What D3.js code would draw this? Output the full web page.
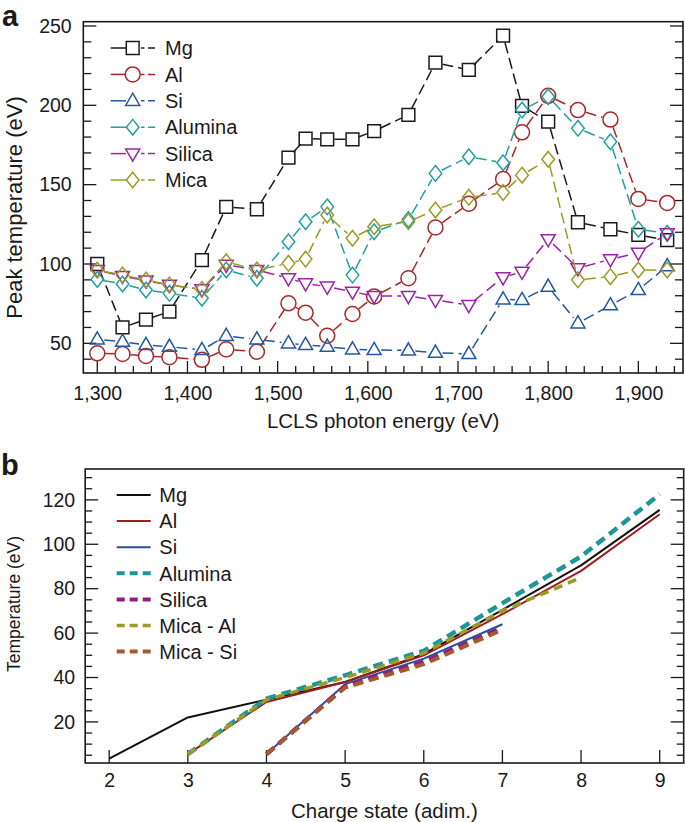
<!DOCTYPE html>
<html><head><meta charset="utf-8">
<script src="https://cdn.jsdelivr.net/npm/d3@7/dist/d3.min.js"></script>
<style>html,body{margin:0;padding:0;background:#fff}svg{display:block}text{font-family:"Liberation Sans",Arial,Helvetica,sans-serif;fill:#1a1a1a}</style>
</head><body>
<script>
// ---------- Panel a data ----------
const energies = [1300,1328,1354,1380,1416,1443,1477,1512,1531,1555,1583,1607,1645,1675,1712,1750,1771,1800,1833,1869,1900,1932];
const mgA      = [100,60,65,70,102.5,136,134.5,167,179,178.6,178.6,183.8,194,226.9,222.3,243.9,199.6,189.7,126.3,121.9,118.3,115];
const alA      = [43.7,43.3,42,41.3,39.6,46.2,44.7,75.2,69.3,54.8,68.5,79.5,91,123,138,153.5,183,206,197,191,141,138.5];
const siA      = [52.5,51,49,47.9,45.8,54.7,52.5,50,49,47.9,46.2,45.8,45.5,44.1,43.3,77.7,77.3,85.7,62.6,74,83.6,98.7];
const aluminaA = [90.3,87.4,83.6,81.5,78.4,96.2,91,114,126.6,136,93,120.3,128,157.1,167.6,163.8,197,205.4,185.5,177,121.9,119.3];
const silicaA  = [96.2,92.4,89.5,86.8,84,99.4,96.2,91,87.8,85.7,82.5,79.8,79.8,77.3,74.1,91.6,95.1,115.6,97.3,103,107.1,119.3];
const micaA    = [96.2,93,89.9,86.8,84,101.4,96.2,100.4,103.1,130.9,116.2,123.5,126.7,134,142,145,156,166,90,92,96.2,96.2];
const seriesNamesA = ["Mg","Al","Si","Alumina","Silica","Mica"];
const xTicksA = [1300,1400,1500,1600,1700,1800,1900];
const yTicksA = [50,100,150,200,250];

// ---------- Panel b data ----------
const mgBx = [2,3,4,5,6,7,8,9],   mgB = [3.5,22,30,38,50.5,70.5,90.5,115.5];
const alBx = [3,4,5,6,7,8,9],     alB = [5.5,29,38,50,68.5,88,113.5];
const siBx = [4,5,6,7],           siB = [5.5,37,48.5,64];
const aluminaBx = [3,4,5,6,7,8,9], aluminaB = [5.5,30.5,41,52,73.5,94.5,122.5];
const silicaBx = [4,5,6,7],       silicaB = [5.5,36,47,62.5];
const micaAlBx = [3,4,5,6,7,8],   micaAlB = [5.5,30,40,51,70,85];
const micaSiBx = [4,5,6,7],       micaSiB = [5.5,35.5,46,61.5];
const seriesNamesB = ["Mg","Al","Si","Alumina","Silica","Mica - Al","Mica - Si"];
const xTicksB = [2,3,4,5,6,7,8,9];
const yTicksB = [20,40,60,80,100,120];

const W = 685, H = 822;
const svg = d3.select("body").append("svg").attr("width", W).attr("height", H);
const FONT = 19.5;

// ================= Panel a =================
const ax = {l:83.3, r:683, t:21.7, b:373};
const xa = d3.scaleLinear().domain([1284.5, 1949.5]).range([ax.l, ax.r]);
const ya = d3.scaleLinear().domain([31.3, 252.7]).range([ax.b, ax.t]);
const ga = svg.append("g");

const minorXA = d3.range(1300, 1950, 20);
const minorYA = d3.range(40, 251, 10);
const tickG = ga.append("g").attr("stroke","#1a1a1a").attr("stroke-width",1.3);
minorXA.forEach(v => { const L = (v % 100 === 0) ? 12 : 7;
  tickG.append("line").attr("x1",xa(v)).attr("x2",xa(v)).attr("y1",ax.b).attr("y2",ax.b-L); });
minorYA.forEach(v => { const L = (v % 50 === 0) ? 13 : 8;
  tickG.append("line").attr("x1",ax.l).attr("x2",ax.l+L).attr("y1",ya(v)).attr("y2",ya(v));
  tickG.append("line").attr("x1",ax.r).attr("x2",ax.r-L).attr("y1",ya(v)).attr("y2",ya(v)); });

const axB = ga.append("g").attr("transform",`translate(0,${ax.b})`)
  .call(d3.axisBottom(xa).tickValues(xTicksA).tickSize(0).tickPadding(13.2).tickFormat(d3.format(",")));
const axL = ga.append("g").attr("transform",`translate(${ax.l},0)`)
  .call(d3.axisLeft(ya).tickValues(yTicksA).tickSize(0).tickPadding(11.6));
[axB, axL].forEach(a => { a.select(".domain").remove(); a.selectAll("text").attr("font-size",FONT).style("font-family",'"Liberation Sans",Arial,sans-serif').attr("fill","#1a1a1a"); });

ga.append("rect").attr("x",ax.l).attr("y",ax.t).attr("width",ax.r-ax.l).attr("height",ax.b-ax.t)
  .attr("fill","none").attr("stroke","#1a1a1a").attr("stroke-width",1.6);

ga.append("text").attr("x",(ax.l+ax.r)/2).attr("y",428).attr("text-anchor","middle").attr("font-size",20.5).text("LCLS photon energy (eV)");
ga.append("text").attr("transform",`translate(22,207.5) rotate(-90)`).attr("text-anchor","middle").attr("font-size",22).text("Peak temperature (eV)");
svg.append("text").attr("x",2).attr("y",26).attr("font-size",29).attr("font-weight","bold").text("a");

function markerPath(kind){
  switch(kind){
    case "square": return "M-6.4,-6.4H6.4V6.4H-6.4Z";
    case "circle": return d3.symbol().type(d3.symbolCircle).size(Math.PI*7.5*7.5)();
    case "up": return "M0,-7.6L7,4.6L-7,4.6Z";
    case "down": return "M0,7.6L7,-4.6L-7,-4.6Z";
    case "diamond": return "M0,-7.8L6.3,0L0,7.8L-6.3,0Z";
  }
}
const seriesA = [
  {name:"Mg", vals:mgA, color:"#1a1a1a", kind:"square", gap:7.2},
  {name:"Al", vals:alA, color:"#a8282a", kind:"circle", gap:8},
  {name:"Si", vals:siA, color:"#2457a0", kind:"up", gap:7},
  {name:"Alumina", vals:aluminaA, color:"#22a0a0", kind:"diamond", gap:7},
  {name:"Silica", vals:silicaA, color:"#9a24a6", kind:"down", gap:7},
  {name:"Mica", vals:micaA, color:"#9a9a22", kind:"diamond", gap:7}
];
const plotA = ga.append("g");
seriesA.forEach(s => {
  const pts = energies.map((e,i)=>[xa(e), ya(s.vals[i])]);
  const lg = plotA.append("g").attr("stroke",s.color).attr("stroke-width",1.5).attr("fill","none").attr("stroke-dasharray","11,5");
  for(let i=0;i<pts.length-1;i++){
    const [x1,y1]=pts[i],[x2,y2]=pts[i+1];
    const dx=x2-x1, dy=y2-y1, d=Math.hypot(dx,dy);
    if(d <= 2*s.gap) continue;
    const ux=dx/d, uy=dy/d;
    lg.append("line").attr("x1",x1+ux*s.gap).attr("y1",y1+uy*s.gap).attr("x2",x2-ux*s.gap).attr("y2",y2-uy*s.gap);
  }
  plotA.append("g").selectAll("path").data(pts).join("path")
    .attr("d",markerPath(s.kind)).attr("transform",d=>`translate(${d[0]},${d[1]})`)
    .attr("fill","none").attr("stroke",s.color).attr("stroke-width",1.5);
});

const legA = ga.append("g");
seriesA.forEach((s,i) => {
  const cy = 48 + i*26.4;
  legA.append("line").attr("x1",110.7).attr("x2",126).attr("y1",cy).attr("y2",cy).attr("stroke",s.color).attr("stroke-width",1.5);
  legA.append("line").attr("x1",141).attr("x2",155).attr("y1",cy).attr("y2",cy).attr("stroke",s.color).attr("stroke-width",1.5).attr("stroke-dasharray","3.5,3.5,7");
  legA.append("path").attr("d",markerPath(s.kind)).attr("transform",`translate(132.7,${cy})`).attr("fill","none").attr("stroke",s.color).attr("stroke-width",1.5);
  legA.append("text").attr("x",165).attr("y",cy+7.2).attr("font-size",20).text(s.name);
});

// ================= Panel b =================
const bx = {l:85.2, r:683.7, t:469, b:763};
const xb = d3.scaleLinear().domain([1.695, 9.305]).range([bx.l, bx.r]);
const yb = d3.scaleLinear().domain([1.5, 133.9]).range([bx.b, bx.t]);
const gb = svg.append("g");
const tickB = gb.append("g").attr("stroke","#1a1a1a").attr("stroke-width",1.3);
xTicksB.forEach(v => tickB.append("line").attr("x1",xb(v)).attr("x2",xb(v)).attr("y1",bx.b).attr("y2",bx.b-13));
d3.range(5, 134, 5).forEach(v => { const L = (v % 20 === 0) ? 13 : 7;
  tickB.append("line").attr("x1",bx.l).attr("x2",bx.l+L).attr("y1",yb(v)).attr("y2",yb(v));
  tickB.append("line").attr("x1",bx.r).attr("x2",bx.r-L).attr("y1",yb(v)).attr("y2",yb(v)); });
const bB = gb.append("g").attr("transform",`translate(0,${bx.b})`)
  .call(d3.axisBottom(xb).tickValues(xTicksB).tickSize(0).tickPadding(10.2).tickFormat(d3.format("d")));
const bL = gb.append("g").attr("transform",`translate(${bx.l},0)`)
  .call(d3.axisLeft(yb).tickValues(yTicksB).tickSize(0).tickPadding(10));
[bB, bL].forEach(a => { a.select(".domain").remove(); a.selectAll("text").attr("font-size",FONT).style("font-family",'"Liberation Sans",Arial,sans-serif').attr("fill","#1a1a1a"); });

const seriesB = [
  {name:"Mg", xs:mgBx, vals:mgB, color:"#111111", w:2, dash:null},
  {name:"Al", xs:alBx, vals:alB, color:"#9e1d1d", w:2, dash:null},
  {name:"Si", xs:siBx, vals:siB, color:"#24519e", w:2, dash:null},
  {name:"Alumina", xs:aluminaBx, vals:aluminaB, color:"#1f9696", w:4.5, dash:"10,6"},
  {name:"Silica", xs:silicaBx, vals:silicaB, color:"#8c1b8c", w:4.5, dash:"10,6"},
  {name:"Mica - Al", xs:micaAlBx, vals:micaAlB, color:"#9c9c24", w:3.5, dash:"9,6"},
  {name:"Mica - Si", xs:micaSiBx, vals:micaSiB, color:"#a65a2a", w:4, dash:"10,6"}
];
const lineB = d3.line().x(d=>xb(d[0])).y(d=>yb(d[1]));
const plotB = gb.append("g");
seriesB.forEach(s => {
  plotB.append("path").attr("d", lineB(s.xs.map((x,i)=>[x,s.vals[i]])))
    .attr("fill","none").attr("stroke",s.color).attr("stroke-width",s.w)
    .attr("stroke-dasharray", s.dash).attr("stroke-linejoin","round");
});
gb.append("rect").attr("x",bx.l).attr("y",bx.t).attr("width",bx.r-bx.l).attr("height",bx.b-bx.t)
  .attr("fill","none").attr("stroke","#1a1a1a").attr("stroke-width",1.6);

const legB = gb.append("g");
seriesB.forEach((s,i) => {
  const cy = 495 + i*26.1;
  legB.append("line").attr("x1",116.7).attr("x2",150.7).attr("y1",cy).attr("y2",cy)
    .attr("stroke",s.color).attr("stroke-width",s.dash? Math.min(s.w,4):2).attr("stroke-dasharray", s.dash? "8,5":null);
  legB.append("text").attr("x",159.3).attr("y",cy+7.2).attr("font-size",20).text(s.name);
});

gb.append("text").attr("x",(bx.l+bx.r)/2).attr("y",818).attr("text-anchor","middle").attr("font-size",20.5).text("Charge state (adim.)");
gb.append("text").attr("transform",`translate(20,604) rotate(-90)`).attr("text-anchor","middle").attr("font-size",17.5).text("Temperature (eV)");
svg.append("text").attr("x",1).attr("y",475).attr("font-size",29).attr("font-weight","bold").text("b");
</script>
</body></html>
